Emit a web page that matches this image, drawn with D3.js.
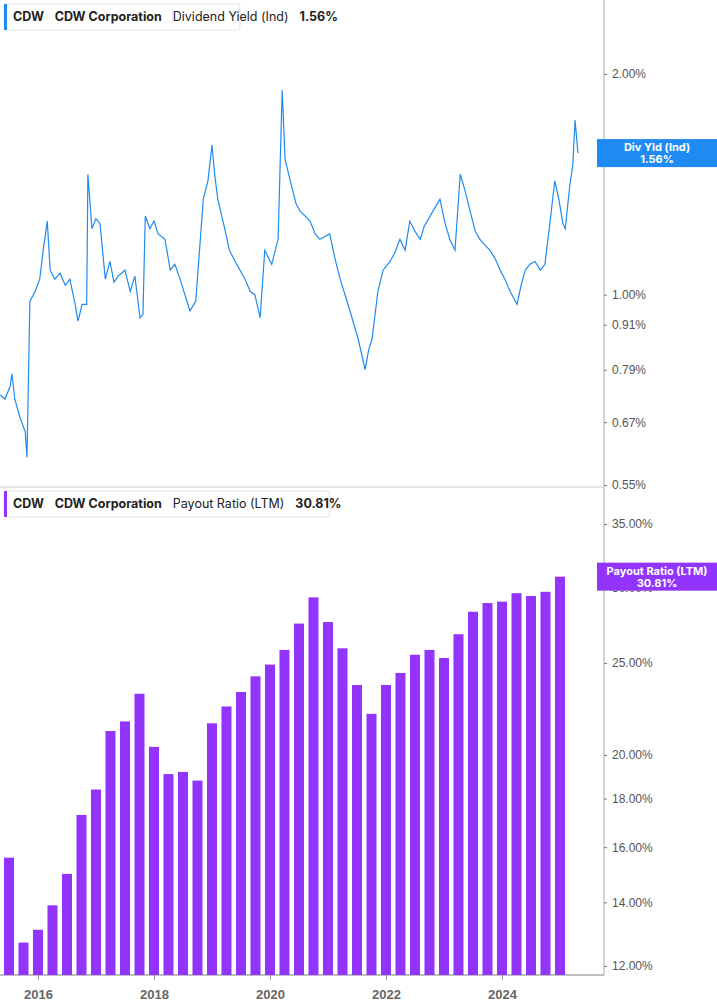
<!DOCTYPE html>
<html>
<head>
<meta charset="utf-8">
<script src="https://cdn.jsdelivr.net/npm/d3@7"></script>
<style>
  body { margin: 0; background: #fff; font-family: Inter, "Noto Sans", sans-serif; }
</style>
</head>
<body>
<script>
// dividend yield (%), [decimal year, value]
const yieldPoints = [
  [2015.35, 0.73], [2015.43, 0.72], [2015.52, 0.75], [2015.55, 0.78], [2015.60, 0.72],
  [2015.69, 0.68], [2015.78, 0.65], [2015.81, 0.60], [2015.86, 0.98], [2015.95, 1.01],
  [2016.03, 1.05], [2016.09, 1.15], [2016.16, 1.26], [2016.21, 1.08], [2016.29, 1.05],
  [2016.38, 1.07], [2016.47, 1.03], [2016.55, 1.05], [2016.64, 0.97], [2016.69, 0.92],
  [2016.76, 0.97], [2016.84, 0.97], [2016.86, 1.46], [2016.93, 1.23], [2017.00, 1.27],
  [2017.07, 1.25], [2017.16, 1.05], [2017.24, 1.11], [2017.31, 1.04], [2017.38, 1.06],
  [2017.50, 1.08], [2017.59, 1.01], [2017.67, 1.06], [2017.76, 0.93], [2017.81, 0.94],
  [2017.85, 1.28], [2017.93, 1.23], [2018.00, 1.26], [2018.07, 1.21], [2018.19, 1.19],
  [2018.28, 1.08], [2018.36, 1.10], [2018.45, 1.05], [2018.62, 0.95], [2018.72, 0.98],
  [2018.85, 1.35], [2018.93, 1.43], [2019.00, 1.60], [2019.05, 1.45], [2019.10, 1.35],
  [2019.22, 1.23], [2019.30, 1.15], [2019.40, 1.11], [2019.57, 1.05], [2019.66, 1.01],
  [2019.74, 1.00], [2019.83, 0.93], [2019.91, 1.15], [2020.03, 1.10], [2020.14, 1.19],
  [2020.21, 1.90], [2020.26, 1.53], [2020.35, 1.43], [2020.45, 1.33], [2020.52, 1.30],
  [2020.69, 1.26], [2020.78, 1.21], [2020.86, 1.19], [2021.03, 1.21], [2021.12, 1.12],
  [2021.21, 1.05], [2021.38, 0.95], [2021.52, 0.87], [2021.58, 0.83], [2021.64, 0.79],
  [2021.70, 0.84], [2021.76, 0.87], [2021.86, 1.01], [2021.95, 1.08], [2022.07, 1.11],
  [2022.15, 1.14], [2022.24, 1.19], [2022.33, 1.15], [2022.41, 1.26], [2022.50, 1.22],
  [2022.59, 1.19], [2022.66, 1.24], [2022.76, 1.28], [2022.93, 1.35], [2023.02, 1.25],
  [2023.10, 1.19], [2023.19, 1.15], [2023.28, 1.46], [2023.37, 1.38], [2023.45, 1.30],
  [2023.54, 1.22], [2023.62, 1.19], [2023.70, 1.17], [2023.79, 1.15], [2023.88, 1.12],
  [2023.97, 1.08], [2024.05, 1.05], [2024.14, 1.01], [2024.26, 0.97], [2024.33, 1.03],
  [2024.40, 1.08], [2024.48, 1.10], [2024.57, 1.11], [2024.66, 1.08], [2024.74, 1.10],
  [2024.83, 1.26], [2024.91, 1.43], [2024.98, 1.35], [2025.05, 1.25], [2025.09, 1.23],
  [2025.17, 1.41], [2025.22, 1.50], [2025.26, 1.73], [2025.31, 1.56]
];

// payout ratio (%), quarterly from mid-2015
const payoutStart = 2015.5;
const payoutValues = [
  15.6, 12.7, 13.1, 13.9, 15.0, 17.3, 18.4, 21.2, 21.7, 23.2,
  20.4, 19.1, 19.2, 18.8, 21.6, 22.5, 23.3, 24.2, 24.9, 25.8,
  27.5, 29.3, 27.6, 25.9, 23.7, 22.1, 23.7, 24.4, 25.5, 25.8,
  25.3, 26.8, 28.3, 28.9, 29.0, 29.6, 29.4, 29.7, 30.81
];

const yieldTicks = [0.55, 0.67, 0.79, 0.91, 1.00, 2.00];
const payoutTicks = [12, 14, 16, 18, 20, 25, 30, 35];
const yearTicks = [2016, 2018, 2020, 2022, 2024];

const W = 717, H = 1005;
const plotRight = 604;
const blue = "#1f8bf2", purple = "#9234fb";

const svg = d3.select("body").append("svg").attr("width", W).attr("height", H)
  .style("font-family", "Inter, 'Noto Sans', sans-serif");

const x = d3.scaleLinear().domain([2015.345, 2015.345 + plotRight / 58]).range([0, plotRight]);
const yTop = d3.scaleLog().domain([0.55, 2.0]).range([485, 74]);
const yBot = d3.scaleLog().domain([12, 35]).range([966, 524]);

// axis frame
svg.append("line").attr("x1", plotRight).attr("x2", plotRight).attr("y1", 0).attr("y2", 975)
  .attr("stroke", "#aaa");
svg.append("line").attr("x1", 0).attr("x2", plotRight).attr("y1", 487).attr("y2", 487)
  .attr("stroke", "#ccc");
svg.append("line").attr("x1", 0).attr("x2", plotRight).attr("y1", 975).attr("y2", 975)
  .attr("stroke", "#aaa").attr("stroke-width", 1.5);

// top line
const line = d3.line().x(d => x(d[0])).y(d => yTop(d[1]));
svg.append("path").datum(yieldPoints).attr("d", line)
  .attr("fill", "none").attr("stroke", blue).attr("stroke-width", 1.2);

// bars
svg.selectAll("rect.bar").data(payoutValues).enter().append("rect")
  .attr("class", "bar")
  .attr("x", (d, i) => x(payoutStart + i * 0.25) - 5)
  .attr("width", 10)
  .attr("y", d => yBot(d))
  .attr("height", d => 975 - yBot(d))
  .attr("fill", purple);

// right axes
const yAxisTop = d3.axisRight(yTop).tickValues(yieldTicks).tickSize(3)
  .tickFormat(d => d.toFixed(2) + "%");
const yAxisBot = d3.axisRight(yBot).tickValues(payoutTicks).tickSize(3)
  .tickFormat(d => d.toFixed(2) + "%");
[yAxisTop, yAxisBot].forEach(ax => {
  const g = svg.append("g").attr("transform", `translate(${plotRight},0)`).call(ax);
  g.select(".domain").remove();
  g.selectAll("text").attr("fill", "#555").style("font-size", "12px").attr("x", 8);
  g.selectAll("line").attr("stroke", "#777");
});

// x axis
const xAxis = d3.axisBottom(x).tickValues(yearTicks).tickSize(5).tickFormat(d3.format("d"));
const gx = svg.append("g").attr("transform", "translate(0,975)").call(xAxis);
gx.select(".domain").remove();
gx.selectAll("line").attr("stroke", "#999");
gx.selectAll("text").attr("fill", "#666").style("font-size", "13px")
  .style("font-weight", "bold").attr("dy", "1.2em");

// value labels on axis
function valueTag(yPos, color, l1, l2) {
  const g = svg.append("g");
  g.append("rect").attr("x", plotRight - 7).attr("y", yPos - 14).attr("width", W - plotRight + 7)
    .attr("height", 28).attr("fill", color);
  g.append("text").attr("x", 657).attr("y", yPos - 2).attr("text-anchor", "middle")
    .attr("fill", "#fff").style("font-size", "11px").style("font-weight", "bold").text(l1);
  g.append("text").attr("x", 657).attr("y", yPos + 10).attr("text-anchor", "middle")
    .attr("fill", "#fff").style("font-size", "11px").style("font-weight", "bold").text(l2);
}
const lastY = yieldPoints[yieldPoints.length - 1];
valueTag(yTop(lastY[1]), blue, "Div Yld (Ind)", lastY[1].toFixed(2) + "%");
const lastP = payoutValues[payoutValues.length - 1];
valueTag(yBot(lastP), purple, "Payout Ratio (LTM)", lastP.toFixed(2) + "%");

// legends
function legend(y0, color, parts, width) {
  const g = svg.append("g");
  g.append("rect").attr("x", 4).attr("y", y0).attr("width", width).attr("height", 26)
    .attr("rx", 3).attr("fill", "#fff").attr("stroke", "#e4e4e4");
  g.append("rect").attr("x", 4).attr("y", y0).attr("width", 3).attr("height", 26)
    .attr("fill", color);
  const t = g.append("text").attr("x", 13).attr("y", y0 + 17)
    .style("font-size", "12.5px").attr("fill", "#222");
  parts.forEach(([s, bold], i) => {
    t.append("tspan").attr("dx", i ? 11 : 0).style("font-weight", bold ? "bold" : "normal").text(s);
  });
}
legend(4, blue, [["CDW", true], ["CDW Corporation", true], ["Dividend Yield (Ind)", false], ["1.56%", true]], 236);
legend(491, purple, [["CDW", true], ["CDW Corporation", true], ["Payout Ratio (LTM)", false], ["30.81%", true]], 326);
</script>
</body>
</html>
